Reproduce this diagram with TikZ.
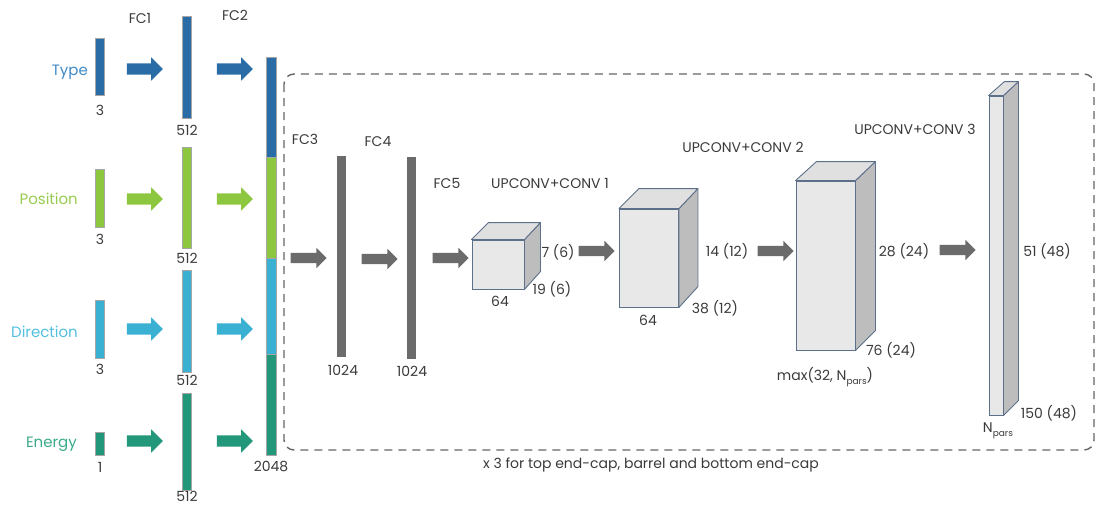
\documentclass[tikz,border=0pt]{standalone}
\usepackage{fontspec}
\setmainfont{Poppins}
\usetikzlibrary{shapes.arrows}
\definecolor{ctype}{HTML}{2A6DA6}
\definecolor{cpos}{HTML}{8DC63F}
\definecolor{cdir}{HTML}{3AB0D3}
\definecolor{cene}{HTML}{23977A}
\definecolor{ltype}{HTML}{3F8AC6}
\definecolor{lpos}{HTML}{96CB4E}
\definecolor{ldir}{HTML}{52BEE0}
\definecolor{lene}{HTML}{3AAA8B}
\definecolor{cgrey}{HTML}{6B6B6B}
\definecolor{ctxt}{HTML}{3A3A3A}
\definecolor{cedge}{HTML}{5D708A}
\definecolor{cfront}{HTML}{E8E8E8}
\definecolor{cside}{HTML}{BDBDBD}
\definecolor{ctop}{HTML}{E0E0E0}
\tikzset{
  bar/.style={rectangle, inner sep=0, minimum width=9pt, draw=gray!70, line width=0.4pt},
  blockarrow/.style={single arrow, inner sep=0, minimum height=36pt, single arrow head extend=6pt, inner ysep=5.5pt, single arrow head indent=0pt, draw=none, text width=0pt},
  greyarrow/.style={blockarrow, fill=cgrey, single arrow head extend=5pt, inner ysep=5pt},
  lbl/.style={text=ctxt, font=\fontsize{14}{15}\selectfont, inner sep=0},
  inlbl/.style={font=\fontsize{15}{16}\selectfont, inner sep=0},
  front/.style={rectangle, inner sep=0, fill=cfront, draw=cedge, line width=0.9pt},
  sideface/.style={fill=cside, draw=cedge, line width=0.9pt, line join=round},
  topface/.style={fill=ctop, draw=cedge, line width=0.9pt, line join=round},
}
\newcommand{\parssub}{\raisebox{-0.55ex}{\fontsize{9}{9}\selectfont pars}}
\begin{document}
\begin{tikzpicture}[x=1pt, y=-1pt]
\useasboundingbox (0,0) rectangle (1097,506);
% dashed box
\draw[dashed, dash pattern=on 8pt off 6pt, line width=1.4pt, draw=gray!80!black, rounded corners=10pt] (284,74) rectangle (1094,450);
% column 1 bars
\node[bar, fill=ctype, minimum height=57pt] (t1) at (100,66.5) {};
\node[bar, fill=cpos, minimum height=58pt] (p1) at (100,198) {};
\node[bar, fill=cdir, minimum height=58pt] (d1) at (100,329) {};
\node[bar, fill=cene, minimum height=23pt] (e1) at (100,443.5) {};
% input labels
\node[inlbl, text=ltype, anchor=east] (lt) at (88,72) {Type};
\node[inlbl, text=lpos, anchor=east] (lp) at (78,199) {Position};
\node[inlbl, text=ldir, anchor=east] (ld) at (78,332) {Direction};
\node[inlbl, text=lene, anchor=east] (le) at (77,444) {Energy};
\node[lbl] (n3a) at (100,110) {3};
\node[lbl] (n3b) at (100,239) {3};
\node[lbl] (n3c) at (100,369) {3};
\node[lbl] (n1) at (100,467) {1};
% arrows col1
\node[blockarrow, fill=ctype] (a1t) at (142,69) {};
\node[blockarrow, fill=cpos] (a1p) at (142,199) {};
\node[blockarrow, fill=cdir] (a1d) at (142,329) {};
\node[blockarrow, fill=cene] (a1e) at (142,441) {};
% column 2 bars
\node[bar, fill=ctype, minimum height=102pt] (t2) at (187,67) {};
\node[bar, fill=cpos, minimum height=101pt] (p2) at (187,197.5) {};
\node[bar, fill=cdir, minimum height=102pt] (d2) at (187,321) {};
\node[bar, fill=cene, minimum height=97pt] (e2) at (187,441.5) {};
\node[lbl] (n512a) at (187,130) {512};
\node[lbl] (n512b) at (187,258) {512};
\node[lbl] (n512c) at (187,380) {512};
\node[lbl, anchor=base] (n512d) at (187,501) {512};
\node[lbl] (fc1) at (140,18) {FC1};
\node[lbl] (fc2) at (235,15) {FC2};
% arrows col2
\node[blockarrow, fill=ctype] (a2t) at (232,69) {};
\node[blockarrow, fill=cpos] (a2p) at (232,199) {};
\node[blockarrow, fill=cdir] (a2d) at (232,329) {};
\node[blockarrow, fill=cene] (a2e) at (232,441) {};
% concatenated bar
\node[bar, fill=ctype, minimum width=10pt, minimum height=100pt] (c3t) at (271,107) {};
\node[bar, fill=cpos, minimum width=10pt, minimum height=101pt] (c3p) at (271,207.5) {};
\node[bar, fill=cdir, minimum width=10pt, minimum height=96pt] (c3d) at (271,306) {};
\node[bar, fill=cene, minimum width=10pt, minimum height=101pt] (c3e) at (271,404.5) {};
\node[lbl] (n2048) at (271,466) {2048};
% FC3-FC5
\node[greyarrow] (g1) at (306,258) {};
\node[lbl] (fc3) at (305,139) {FC3};
\node[bar, fill=cgrey, draw=none, minimum height=201pt] (f3) at (341.5,256.5) {};
\node[lbl] (n1024a) at (343,370) {1024};
\node[greyarrow] (g2) at (377,259) {};
\node[lbl] (fc4) at (378,142) {FC4};
\node[bar, fill=cgrey, draw=none, minimum height=202pt] (f4) at (411.5,258) {};
\node[lbl] (n1024b) at (412,371) {1024};
\node[greyarrow] (g3) at (448,258) {};
\node[lbl] (fc5) at (447,183) {FC5};
% cube 1
\node[front, minimum width=52pt, minimum height=49pt] (cb1) at (498,264.5) {};
\draw[sideface] (cb1.north east) -- ++(16,-17) -- ++(0,49) -- (cb1.south east) -- cycle;
\draw[topface] (cb1.north west) -- (cb1.north east) -- ++(16,-17) -- ++(-52,0) -- cycle;
\node[lbl] (u1) at (550,183) {UPCONV+CONV 1};
\node[lbl] (c1a) at (558,252) {7 (6)};
\node[lbl] (c1b) at (552,289) {19 (6)};
\node[lbl] (c1c) at (500,301) {64};
\node[greyarrow] (g4) at (594,251) {};
% cube 2
\node[front, minimum width=59pt, minimum height=98pt] (cb2) at (649,258) {};
\draw[sideface] (cb2.north east) -- ++(19,-20) -- ++(0,98) -- (cb2.south east) -- cycle;
\draw[topface] (cb2.north west) -- (cb2.north east) -- ++(19,-20) -- ++(-59,0) -- cycle;
\node[lbl] (u2) at (743,147) {UPCONV+CONV 2};
\node[lbl] (c2a) at (727,251) {14 (12)};
\node[lbl] (c2b) at (715,308) {38 (12)};
\node[lbl] (c2c) at (648,320) {64};
\node[greyarrow] (g5) at (773,251) {};
% cube 3
\node[front, minimum width=59pt, minimum height=169pt] (cb3) at (825.5,265.5) {};
\draw[sideface] (cb3.north east) -- ++(20,-19) -- ++(0,169) -- (cb3.south east) -- cycle;
\draw[topface] (cb3.north west) -- (cb3.north east) -- ++(20,-19) -- ++(-59,0) -- cycle;
\node[lbl] (c3a) at (904,251) {28 (24)};
\node[lbl] (c3b) at (891,350) {76 (24)};
\node[lbl] (c3c) at (825,377) {max(32, N\parssub)};
\node[greyarrow] (g6) at (955,250) {};
% column 4
\node[front, minimum width=14pt, minimum height=319pt] (cb4) at (996,255.5) {};
\draw[sideface] (cb4.north east) -- ++(15,-14) -- ++(0,319) -- (cb4.south east) -- cycle;
\draw[topface] (cb4.north west) -- (cb4.north east) -- ++(15,-14) -- ++(-14,0) -- cycle;
\node[lbl] (u3) at (915,129) {UPCONV+CONV 3};
\node[lbl] (c4a) at (1047,251) {51 (48)};
\node[lbl] (c4b) at (1049,413) {150 (48)};
\node[lbl] (c4c) at (998,431) {N\parssub};
% caption
\node[lbl] (cap) at (651,465) {x 3 for top end-cap, barrel and bottom end-cap};
\end{tikzpicture}
\end{document}
